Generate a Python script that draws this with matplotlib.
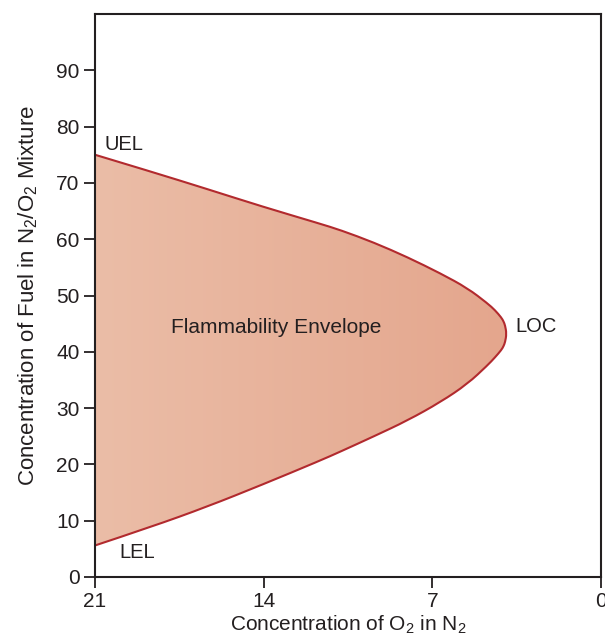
import matplotlib
matplotlib.use('Agg')
import matplotlib.pyplot as plt
import numpy as np
from matplotlib.colors import LinearSegmentedColormap
from matplotlib.path import Path
from matplotlib.patches import PathPatch

# Flammability envelope (O2 % in N2, fuel %)
upper_o2   = [21, 18.67, 16.34, 14.06, 11.7, 10.8, 9.42, 8.03, 6.65, 5.54, 4.71, 4.4, 4.13, 4.045, 3.98]
upper_fuel = [75.0, 72.0, 68.9, 65.8, 62.8, 61.6, 59.4, 56.8, 53.9, 51.3, 48.6, 47.4, 46.05, 45.4, 44.7]
nose_o2    = 3.92
nose_fuel  = 43.2
lower_o2   = [3.98, 4.045, 4.13, 4.4, 4.71, 5.54, 6.65, 8.03, 9.42, 10.8, 11.7, 14.06, 16.34, 18.67, 21]
lower_fuel = [41.7, 41.0, 40.35, 39.0, 37.6, 34.3, 31.1, 27.8, 25.0, 22.3, 20.6, 16.4, 12.5, 8.9, 5.6]

x_ticks = [21, 14, 7, 0]
y_ticks = [0, 10, 20, 30, 40, 50, 60, 70, 80, 90]

INK  = '#231f20'
EDGE = '#b22a2e'

plt.rcParams['font.family'] = ['Liberation Sans', 'DejaVu Sans']
plt.rcParams['mathtext.fontset'] = 'custom'
plt.rcParams['mathtext.rm'] = 'Liberation Sans'
plt.rcParams['mathtext.it'] = 'Liberation Sans'


def smooth_path(pts, close=False):
    # quadratic B-spline through midpoints, read points act as controls
    verts = [pts[0]]
    codes = [Path.MOVETO]
    for i in range(1, len(pts) - 2):
        mid = (pts[i] + pts[i + 1]) / 2
        verts += [pts[i], mid]
        codes += [Path.CURVE3, Path.CURVE3]
    verts += [pts[-2], pts[-1]]
    codes += [Path.CURVE3, Path.CURVE3]
    if close:
        verts.append(pts[0])
        codes.append(Path.CLOSEPOLY)
    return Path(verts, codes)


fig = plt.figure(figsize=(6.05, 6.37), dpi=100)
ax = fig.add_axes([95 / 605, 1 - 577 / 637, (601 - 95) / 605, (577 - 14) / 637])

pts = np.column_stack([upper_o2 + [nose_o2] + lower_o2,
                       upper_fuel + [nose_fuel] + lower_fuel]).astype(float)

ax.set_xlim(21, 0)
ax.set_ylim(0, 100)

# gradient fill clipped to the envelope
clip = PathPatch(smooth_path(pts, close=True), facecolor='none', edgecolor='none',
                 transform=ax.transData)
ax.add_patch(clip)
cmap = LinearSegmentedColormap.from_list('env', ['#ebbda7', '#e4a68d'])
grad = np.linspace(0, 1, 256).reshape(1, -1)
im = ax.imshow(grad, cmap=cmap, extent=[21, nose_o2, 0, 100], aspect='auto',
               interpolation='bicubic', zorder=1)
im.set_clip_path(clip)
ax.add_patch(PathPatch(smooth_path(pts), facecolor='none', edgecolor=EDGE, lw=1.5,
                       zorder=3, transform=ax.transData))

ax.set_xlim(21, 0)
ax.set_ylim(0, 100)
ax.set_xticks(x_ticks)
ax.set_yticks(y_ticks)
ax.tick_params(axis='both', direction='out', length=8, width=1.3, colors=INK,
               labelsize=15, pad=3)
for s in ax.spines.values():
    s.set_linewidth(1.5)
    s.set_color(INK)
    s.set_zorder(4)

ax.set_xlabel('Concentration of O$_2$ in N$_2$', fontsize=15, color=INK, labelpad=2)
ax.set_ylabel('Concentration of Fuel in N$_2$/O$_2$ Mixture', fontsize=16, color=INK,
              labelpad=12)

ax.text(20.6, 76.8, 'UEL', fontsize=14.5, color=INK, ha='left', va='center')
ax.text(20.0, 4.3, 'LEL', fontsize=14.5, color=INK, ha='left', va='center')
ax.text(3.55, 44.5, 'LOC', fontsize=14.5, color=INK, ha='left', va='center')
ax.text(13.5, 44.3, 'Flammability Envelope', fontsize=15, color=INK,
        ha='center', va='center', zorder=4)

fig.savefig('out.png', dpi=100)
